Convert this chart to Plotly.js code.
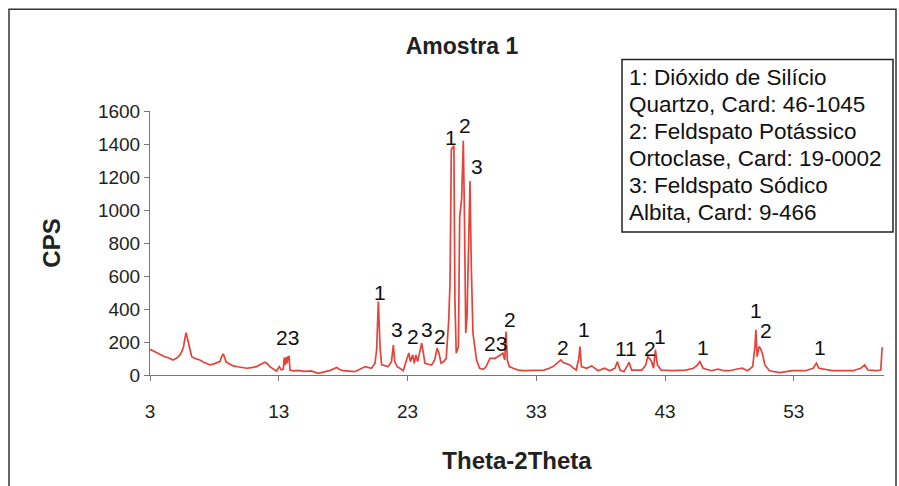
<!DOCTYPE html>
<html>
<head>
<meta charset="utf-8">
<script src="https://cdn.plot.ly/plotly-3.0.1.min.js"></script>
<style>
html,body{margin:0;padding:0;background:#fff;}
#chart{width:899px;height:486px;}
</style>
</head>
<body>
<div id="chart"></div>
<script>
// 2-theta positions (degrees)
var theta = [3.0,3.3,3.6,3.8,4.1,4.4,4.6,4.8,5.0,5.2,5.4,5.6,5.72,5.8,5.88,5.98,6.1,6.24,6.5,6.88,
7.1,7.4,7.66,7.9,8.2,8.43,8.55,8.69,8.8,8.9,9.1,9.47,9.8,10.1,10.5,10.9,11.28,11.6,11.93,12.1,
12.3,12.6,12.84,13.04,13.2,13.35,13.42,13.5,13.58,13.65,13.72,13.8,13.87,14.1,14.5,15.0,15.5,16.07,16.5,17.0,
17.5,17.7,18.0,18.5,18.9,19.3,19.7,20.2,20.47,20.6,20.68,20.73,20.8,20.88,20.99,21.2,21.5,21.75,21.9,22.0,
22.2,22.4,22.67,22.92,23.1,23.22,23.4,23.52,23.65,23.78,23.96,24.1,24.23,24.35,24.6,24.87,25.1,25.3,25.45,25.6,
25.8,26.0,26.2,26.3,26.4,26.5,26.6,26.68,26.78,26.95,27.05,27.2,27.33,27.42,27.52,27.62,27.75,27.85,27.95,28.08,
28.36,28.6,28.9,29.1,29.4,29.6,29.8,30.0,30.17,30.4,30.55,30.65,30.75,30.9,31.2,31.6,32.0,32.5,33.0,33.6,
34.0,34.3,34.6,34.9,35.1,35.3,35.6,35.9,36.1,36.3,36.39,36.5,36.9,37.3,37.8,38.3,38.7,39.1,39.3,39.5,
39.8,40.1,40.2,40.4,41.2,41.5,41.65,41.8,41.95,42.1,42.25,42.4,42.7,43.6,44.6,45.2,45.5,45.7,45.95,46.6,
47.1,47.6,48.0,48.5,49.0,49.4,49.8,49.98,50.05,50.15,50.3,50.4,50.55,50.75,51.1,51.9,52.9,53.9,54.5,54.75,
54.95,56.0,57.6,58.2,58.5,58.75,59.4,59.75,59.85,59.95];

// counts per second
var cps = [156,145,130,122,112,105,100,91,100,110,130,170,225,257,230,194,150,111,100,91,
80,68,61,66,72,81,110,128,105,81,70,55,50,45,41,45,51,65,77,70,
51,35,24,51,30,35,105,60,108,70,111,112,30,25,28,22,25,10,20,28,
45,35,26,22,20,35,51,41,71,152,380,446,300,152,61,55,51,81,182,81,
50,41,26,91,134,81,122,71,122,81,152,193,132,71,65,61,90,162,130,71,
80,101,334,567,1368,1380,1390,456,132,172,963,1064,1420,963,255,355,862,1175,659,253,
91,41,35,51,101,101,101,111,122,132,91,263,91,51,41,30,26,26,30,30,
41,51,70,91,75,71,61,40,30,100,172,51,41,55,26,41,26,40,81,30,
20,60,77,30,30,61,111,100,81,41,152,61,30,26,30,41,60,81,41,26,
36,26,26,35,41,26,51,172,274,111,172,162,132,61,26,14,26,26,41,71,
41,26,26,41,61,30,26,30,162,165];

var xTicks = [3,13,23,33,43,53];
var yTicks = [0,200,400,600,800,1000,1200,1400,1600];

// peak labels
var labelX = [13.64,20.86,22.18,23.4,24.5,25.5,26.37,27.46,28.39,29.8,30.95,35.07,36.7,39.96,41.85,42.6,45.93,50.05,50.83,55.0];
var labelY = [225,499,274,231,274,231,1441,1514,1265,188,334,164,274,158,158,235,164,389,268,164];
var labelText = ["23","1","3","2","3","2","1","2","3","23","2","2","1","11","2","1","1","1","2","1"];

var legendLines = ["1: Dióxido de Silício","Quartzo, Card: 46-1045","2: Feldspato Potássico",
"Ortoclase, Card: 19-0002","3: Feldspato Sódico","Albita, Card: 9-466"];

var FONT = "Arial, 'Liberation Sans', sans-serif";

// pixel helpers for paper placement (plot area: x 150..884, y 375..113)
function px2paperX(p){ return (p-150)/734; }
function px2paperY(p){ return (375-p)/262; }

var annotations = labelX.map(function(x,i){
  return {x:x, y:labelY[i], xref:'x', yref:'y', text:labelText[i], showarrow:false,
    xanchor:'center', yanchor:'middle', font:{family:FONT, size:21, color:'#111'}};
});
legendLines.forEach(function(t,i){
  annotations.push({xref:'paper', yref:'paper', x:px2paperX(627), y:px2paperY(80+26.8*i),
    xanchor:'left', yanchor:'middle', text:t, showarrow:false, align:'left',
    font:{family:FONT, size:22.5, color:'#111'}});
});

var trace = {
  x: theta, y: cps, type:'scatter', mode:'lines',
  line:{color:'#e4433a', width:1.7}, hoverinfo:'skip'
};

var layout = {
  width:899, height:486,
  margin:{l:150, r:15, t:111, b:111},
  paper_bgcolor:'#fff', plot_bgcolor:'#fff',
  showlegend:false,
  title:{text:'<b>Amostra 1</b>', x:462/899, xref:'container', xanchor:'center',
    y:1-46/486, yref:'container', yanchor:'middle',
    font:{family:FONT, size:23, color:'#222'}},
  xaxis:{range:[3,60], tickmode:'array', tickvals:xTicks, ticktext:xTicks.map(String),
    showgrid:false, zeroline:false, showline:true, linecolor:'#777', linewidth:1,
    ticks:'outside', ticklen:5, tickcolor:'#777', ticklabelstandoff:14,
    tickfont:{family:FONT, size:19, color:'#222'},
    title:{text:'<b>Theta-2Theta</b>', standoff:31, font:{family:FONT, size:24, color:'#222'}}},
  yaxis:{range:[0,1600], tickmode:'array', tickvals:yTicks, ticktext:yTicks.map(String),
    showgrid:false, zeroline:false, showline:true, linecolor:'#777', linewidth:1,
    ticks:'outside', ticklen:5, tickcolor:'#777',
    tickfont:{family:FONT, size:19, color:'#222'},
    title:{text:'<b>CPS</b>', standoff:30, font:{family:FONT, size:24, color:'#222'}}},
  annotations: annotations,
  shapes:[
    {type:'rect', xref:'paper', yref:'paper', x0:px2paperX(9), x1:px2paperX(896),
      y0:-0.6, y1:px2paperY(12), line:{color:'#333', width:1.5}, fillcolor:'rgba(0,0,0,0)', layer:'below'},
    {type:'rect', xref:'paper', yref:'paper', x0:px2paperX(622), x1:px2paperX(893),
      y0:px2paperY(233), y1:px2paperY(62), line:{color:'#222', width:1.5}, fillcolor:'#fff', layer:'below'}
  ]
};

Plotly.newPlot('chart', [trace], layout, {displayModeBar:false, staticPlot:true});
</script>
</body>
</html>
